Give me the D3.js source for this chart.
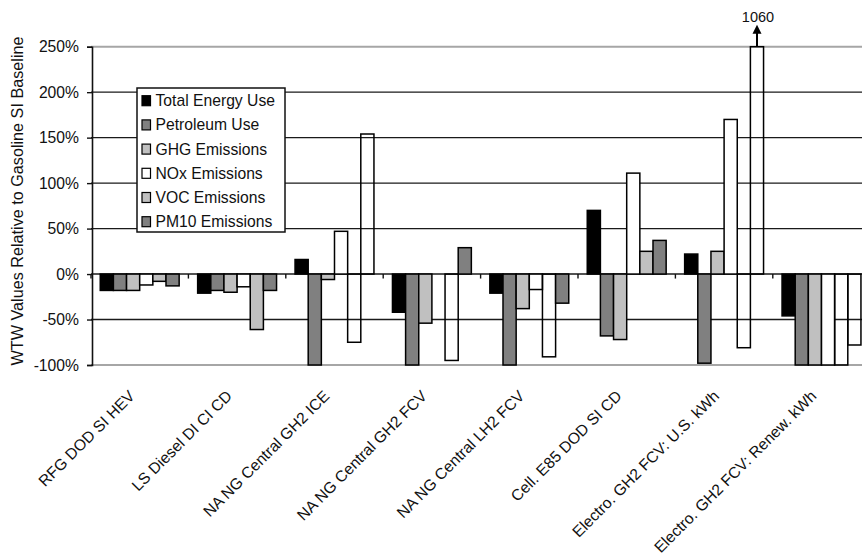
<!DOCTYPE html>
<html>
<head>
<meta charset="utf-8">
<script src="https://cdn.jsdelivr.net/npm/d3@7"></script>
<style>
  html, body { margin: 0; padding: 0; background: #fff; }
  svg { display: block; }
  text { font-family: "Liberation Sans", Arial, sans-serif; fill: #111; }
</style>
</head>
<body>
<svg id="chart" width="862" height="556"></svg>
<script>
// Pathways compared against the gasoline SI baseline
const categories = [
  "RFG DOD SI HEV",
  "LS Diesel DI CI CD",
  "NA NG Central GH2 ICE",
  "NA NG Central GH2 FCV",
  "NA NG Central LH2 FCV",
  "Cell. E85 DOD SI CD",
  "Electro. GH2 FCV: U.S. kWh",
  "Electro. GH2 FCV: Renew. kWh"
];

const seriesNames = [
  "Total Energy Use",
  "Petroleum Use",
  "GHG Emissions",
  "NOx Emissions",
  "VOC Emissions",
  "PM10 Emissions"
];

// WTW change relative to baseline, percent
const totalEnergyUse = [-18, -21, 16, -42, -21, 70, 22, -46];
const petroleumUse   = [-18, -18, -100, -100, -100, -68, -98, -100];
const ghgEmissions   = [-18, -20, -6, -54, -38, -72, 25, -100];
const noxEmissions   = [-12, -14, 47, 0, -17, 111, 170, -100];
const vocEmissions   = [-8, -61, -75, -95, -91, 25, -81, -100];
const pm10Emissions  = [-13, -18, 154, 29, -32, 37, 1060, -78];

const yTicks = [-100, -50, 0, 50, 100, 150, 200, 250];

const seriesValues = [totalEnergyUse, petroleumUse, ghgEmissions, noxEmissions, vocEmissions, pm10Emissions];

// ---- styling ----
const seriesFill = ["#000000", "#808080", "#c0c0c0", "#ffffff", "#c0c0c0", "#808080"];
// bars drawn as outlines only (series index -> category indices)
const outlineOnly = { 4: [2, 3, 4, 6, 7], 5: [2, 6, 7] };

const svg = d3.select("#chart");
const plotLeft = 91, plotRight = 870.2, plotTop = 46.7, plotBottom = 365;

const x0 = d3.scaleBand().domain(categories).range([plotLeft, plotRight]).padding(0);
const x1 = d3.scaleBand().domain(seriesNames)
  .range([9.25, x0.bandwidth() - 9.25]).padding(0);
const y = d3.scaleLinear().domain([-100, 250]).range([plotBottom, plotTop]).clamp(true);

// gridlines
const grid = svg.append("g");
grid.selectAll("line").data(yTicks).join("line")
  .attr("x1", plotLeft).attr("x2", 862)
  .attr("y1", d => y(d)).attr("y2", d => y(d))
  .attr("stroke", d => (d === 250 || d === -100) ? "#a6a6a6" : "#1a1a1a")
  .attr("stroke-width", d => (d === 250 || d === -100) ? 2 : 1.4);

// y axis with percent labels
const yAxis = d3.axisLeft(y).tickValues(yTicks).tickSize(5).tickPadding(8)
  .tickFormat(d => d + "%");
const gy = svg.append("g").attr("transform", `translate(${plotLeft + 1},0)`).call(yAxis);
gy.select(".domain").attr("stroke", "#111").attr("stroke-width", 1.6);
gy.selectAll(".tick line").attr("stroke", "#111").attr("stroke-width", 1.4);
gy.selectAll(".tick text").attr("font-size", "15.7px")
  .attr("font-family", "'Liberation Sans', Arial, sans-serif").attr("fill", "#111");

// category separator ticks along the zero line
const bounds = categories.map(c => x0(c)).concat([x0(categories[categories.length - 1]) + x0.bandwidth()]);
svg.append("g").selectAll("line").data(bounds).join("line")
  .attr("x1", d => d).attr("x2", d => d)
  .attr("y1", y(0)).attr("y2", y(0) + 4.5)
  .attr("stroke", "#111").attr("stroke-width", 1.4);

// bars
const groups = svg.append("g").selectAll("g").data(categories).join("g")
  .attr("transform", c => `translate(${x0(c)},0)`);

groups.selectAll("rect")
  .data((c, ci) => seriesNames.map((s, si) => ({ s, si, ci, v: seriesValues[si][ci] })))
  .join("rect")
  .attr("x", d => x1(d.s))
  .attr("width", x1.bandwidth())
  .attr("y", d => Math.min(y(d.v), y(0)))
  .attr("height", d => Math.abs(y(d.v) - y(0)))
  .attr("fill", d => (outlineOnly[d.si] && outlineOnly[d.si].includes(d.ci)) ? "none" : seriesFill[d.si])
  .attr("stroke", "#000")
  .attr("stroke-width", 1.5);

// off-scale value marker
const offScale = [];
seriesValues.forEach((vals, si) => vals.forEach((v, ci) => {
  if (v > y.domain()[1]) offScale.push({ si, ci, v });
}));
const marks = svg.append("g").selectAll("g").data(offScale).join("g")
  .attr("transform", d => `translate(${x0(categories[d.ci]) + x1(seriesNames[d.si]) + x1.bandwidth() / 2},0)`);
marks.append("line")
  .attr("x1", 0).attr("x2", 0)
  .attr("y1", d => y(d.v)).attr("y2", d => y(d.v) - 15)
  .attr("stroke", "#000").attr("stroke-width", 2);
marks.append("path")
  .attr("d", d => `M-4.5,${y(d.v) - 13} L4.5,${y(d.v) - 13} L0,${y(d.v) - 22} Z`)
  .attr("fill", "#000");
marks.append("text")
  .attr("x", 1).attr("y", d => y(d.v) - 25)
  .attr("text-anchor", "middle")
  .attr("font-size", "14.5px")
  .text(d => d.v);

// rotated category labels
svg.append("g").selectAll("text").data(categories).join("text")
  .attr("transform", c => `translate(${x0(c) + x0.bandwidth() / 2 - 4},397) rotate(-45)`)
  .attr("text-anchor", "end")
  .attr("font-size", "15.7px")
  .text(c => c);

// y axis title
svg.append("text")
  .attr("transform", "translate(23,201) rotate(-90)")
  .attr("text-anchor", "middle")
  .attr("font-size", "16.2px")
  .text("WTW Values Relative to Gasoline SI Baseline");

// legend
const lg = svg.append("g").attr("transform", "translate(137,88)");
lg.append("rect").attr("width", 148).attr("height", 144)
  .attr("fill", "#fff").attr("stroke", "#111").attr("stroke-width", 1.5);
const items = lg.selectAll("g.item").data(seriesNames).join("g")
  .attr("class", "item")
  .attr("transform", (d, i) => `translate(0,${12.7 + i * 24.2})`);
items.append("rect")
  .attr("x", 5).attr("y", -5).attr("width", 8.5).attr("height", 10)
  .attr("fill", (d, i) => seriesFill[i]).attr("stroke", "#000").attr("stroke-width", 1.2);
items.append("text")
  .attr("x", 18.5).attr("y", 5.5)
  .attr("font-size", "15.7px")
  .text(d => d);
</script>
</body>
</html>
